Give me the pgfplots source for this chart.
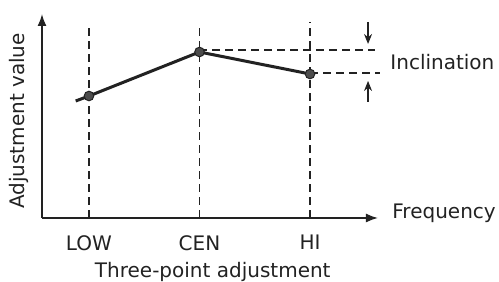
\documentclass[border=0pt]{standalone}
\usepackage{pgfplots}
\pgfplotsset{compat=1.18}
\usepackage{fontspec}
\setmainfont{DejaVu Sans}
\usetikzlibrary{arrows.meta}
\definecolor{ink}{HTML}{222222}
\begin{document}
\begin{tikzpicture}
\begin{axis}[
 at={(0,0)}, anchor=south west,
 scale only axis, width=168pt, height=102pt,
 xmin=0.575, xmax=3.615, ymin=0, ymax=204,
 axis x line=bottom, axis y line=left,
 axis line style={ink, line width=0.8pt, -{Latex[length=6pt,width=4.5pt]}},
 xtick={1,2,3}, xticklabels={LOW,CEN,HI},
 ytick=\empty,
 major tick length=0pt,
 tick label style={font=\fontsize{10}{12}\selectfont, text=ink},
 xticklabel style={inner sep=0pt, anchor=north, yshift=-8.5pt},
 clip=false,
 every axis plot/.append style={ink},
]
\addplot[dash pattern=on 4pt off 2.5pt, line width=0.6pt] coordinates {(1,0) (1,191)};
\addplot[dash pattern=on 4pt off 2.5pt, line width=0.6pt] coordinates {(2,0) (2,193)};
\addplot[dash pattern=on 4pt off 2.5pt, line width=0.6pt] coordinates {(3,0) (3,196)};
\addplot[dash pattern=on 4pt off 2.5pt, line width=0.6pt] coordinates {(2,168) (3.59,168)};
\addplot[dash pattern=on 4pt off 2.5pt, line width=0.6pt] coordinates {(3,145) (3.63,145)};
\addplot[line width=0.6pt, -{Stealth[length=5pt,width=4pt]}] coordinates {(3.525,196) (3.525,174)};
\addplot[line width=0.6pt, -{Stealth[length=5pt,width=4pt]}] coordinates {(3.525,116) (3.525,137)};
\addplot[line width=1.5pt, mark=*, mark indices={2,3,4},
  mark options={solid, fill=black!70, draw=ink, line width=0.5pt, scale=1.2}]
  coordinates {(0.88,117) (1,122) (2,166) (3,144)};
\node[anchor=base west, inner sep=0pt, font=\fontsize{10}{12}\selectfont, text=ink] at (axis cs:3.742,-1) {Frequency};
\node[anchor=base west, inner sep=0pt, font=\fontsize{10}{12}\selectfont, text=ink] at (axis cs:3.724,148) {Inclination};
\node[yshift=-22pt, anchor=north, inner sep=0pt, font=\fontsize{10}{12}\selectfont, text=ink] at (axis cs:2.12,0) {Three-point adjustment};
\node[xshift=-11.5pt, rotate=90, anchor=center, inner sep=0pt, font=\fontsize{10}{12}\selectfont, text=ink] at (axis cs:0.575,97) {Adjustment value};
\end{axis}
\pgfresetboundingbox
\path[use as bounding box] (-21pt,-32pt) rectangle (228.5pt,109pt);
\end{tikzpicture}
\end{document}
